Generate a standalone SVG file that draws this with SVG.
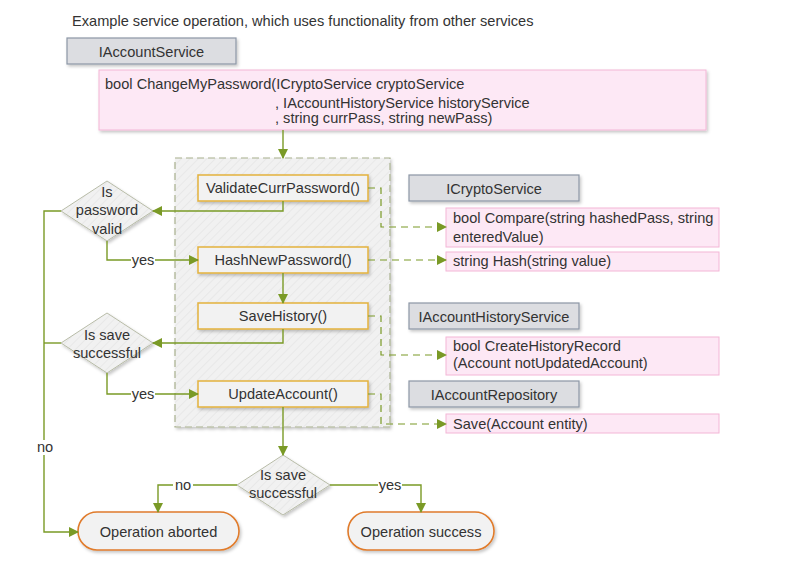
<svg xmlns="http://www.w3.org/2000/svg" width="790" height="570" viewBox="0 0 790 570">
<defs>
<style>
text{font-family:"Liberation Sans",Arial,sans-serif;font-size:14.6px;fill:#333;}
.c{text-anchor:middle;}
.gray{fill:#dcdde1;stroke:#8c97a6;stroke-width:1.2;}
.pink{fill:#fde8f5;stroke:#f3b6d6;stroke-width:1;}
.step{fill:#f2f2f2;stroke:#e3b23c;stroke-width:1.5;}
.dia{fill:url(#hatch);stroke:#b8bca8;stroke-width:1;}
.pill{fill:#f2f2f2;stroke:#e07b2c;stroke-width:1.6;}
.ln{fill:none;stroke:#7a9a26;stroke-width:1.4;}
.ar{marker-end:url(#ah);}
.dl{fill:none;stroke:#7a9a26;stroke-width:1.2;stroke-dasharray:7,5;}
.lbl{fill:#fff;}
</style>
<pattern id="hatch" width="6" height="6" patternUnits="userSpaceOnUse" patternTransform="rotate(45)">
<rect width="6" height="6" fill="#f1f1f1"/>
<line x1="0" y1="0" x2="0" y2="6" stroke="#e6e6e6" stroke-width="1.5"/>
</pattern>
<marker id="ah" markerWidth="10" markerHeight="10" refX="9" refY="5" orient="auto" markerUnits="userSpaceOnUse">
<path d="M0,0 L10,5 L0,10 Z" fill="#7a9a26"/>
</marker>
<filter id="sh" x="-10%" y="-10%" width="130%" height="140%">
<feDropShadow dx="1.5" dy="2" stdDeviation="1.5" flood-color="#000" flood-opacity="0.22"/>
</filter>
</defs>
<rect width="790" height="570" fill="#fff"/>
<text x="72" y="26">Example service operation, which uses functionality from other services</text>

<g id="iaccountservice"><rect class="gray" x="67" y="38" width="169" height="26" filter="url(#sh)"/><text class="c" x="151.5" y="57">IAccountService</text></g>
<g id="changemypassword"><rect class="pink" x="99" y="70" width="607" height="60" filter="url(#sh)"/>
<text x="105" y="89">bool ChangeMyPassword(ICryptoService cryptoService</text>
<text x="275" y="108">, IAccountHistoryService historyService</text>
<text x="275" y="123">, string currPass, string newPass)</text></g>

<g id="container"><rect x="175" y="158" width="215" height="269" fill="url(#hatch)" stroke="#a7b08e" stroke-width="1.2" stroke-dasharray="7,4" filter="url(#sh)"/></g>

<g id="validate"><rect class="step" x="198" y="175" width="170" height="26" filter="url(#sh)"/><text class="c" x="283" y="193">ValidateCurrPassword()</text></g>
<g id="hash"><rect class="step" x="198" y="247" width="170" height="26" filter="url(#sh)"/><text class="c" x="283" y="265">HashNewPassword()</text></g>
<g id="savehistory"><rect class="step" x="198" y="303" width="170" height="26" filter="url(#sh)"/><text class="c" x="283" y="321">SaveHistory()</text></g>
<g id="updateaccount"><rect class="step" x="198" y="381" width="170" height="26" filter="url(#sh)"/><text class="c" x="283" y="399">UpdateAccount()</text></g>

<g id="dia1"><path class="dia" d="M107,181 L153,211 L107,241 L61,211 Z" filter="url(#sh)"/>
<text class="c" x="107" y="197">Is</text><text class="c" x="107" y="215">password</text><text class="c" x="107" y="234">valid</text></g>
<g id="dia2"><path class="dia" d="M107,313 L153,343 L107,373 L61,343 Z" filter="url(#sh)"/>
<text class="c" x="107" y="340">Is save</text><text class="c" x="107" y="358">successful</text></g>
<g id="dia3"><path class="dia" d="M283,455 L330,485 L283,515 L237,485 Z" filter="url(#sh)"/>
<text class="c" x="283" y="480">Is save</text><text class="c" x="283" y="498">successful</text></g>

<g id="aborted"><rect class="pill" x="78" y="512" width="161" height="38" rx="19" filter="url(#sh)"/><text class="c" x="158.5" y="537">Operation aborted</text></g>
<g id="success"><rect class="pill" x="348" y="512" width="146" height="38" rx="19" filter="url(#sh)"/><text class="c" x="421" y="537">Operation success</text></g>

<g id="icryptoservice"><rect class="gray" x="409" y="175" width="170" height="26" filter="url(#sh)"/><text class="c" x="494" y="194">ICryptoService</text></g>
<g id="compare"><rect class="pink" x="446" y="208" width="273" height="39"/><text x="453" y="223">bool Compare(string hashedPass, string</text><text x="453" y="242">enteredValue)</text></g>
<g id="hashm"><rect class="pink" x="446" y="252" width="273" height="19"/><text x="453" y="266">string Hash(string value)</text></g>
<g id="iaccounthistoryservice"><rect class="gray" x="409" y="303" width="170" height="26" filter="url(#sh)"/><text class="c" x="494" y="322">IAccountHistoryService</text></g>
<g id="createhistory"><rect class="pink" x="446" y="337" width="273" height="38"/><text x="453" y="351">bool CreateHistoryRecord</text><text x="453" y="368">(Account notUpdatedAccount)</text></g>
<g id="iaccountrepository"><rect class="gray" x="409" y="381" width="170" height="26" filter="url(#sh)"/><text class="c" x="494" y="400">IAccountRepository</text></g>
<g id="save"><rect class="pink" x="446" y="414" width="273" height="19"/><text x="453" y="429">Save(Account entity)</text></g>

<g id="connectors">
<path class="ln ar" d="M283,130 L283,158"/>
<path class="ln ar" d="M283,201 L283,211 L153,211"/>
<path class="ln ar" d="M107,241 L107,260 L198,260"/>
<path class="ln ar" d="M283,273 L283,303"/>
<path class="ln ar" d="M283,329 L283,343 L153,343"/>
<path class="ln ar" d="M107,373 L107,394 L198,394"/>
<path class="ln ar" d="M283,407 L283,455"/>
<path class="ln ar" d="M61,211 L44,211 L44,532 L78,532"/>
<path class="ln" d="M61,343 L44,343"/>
<path class="ln ar" d="M237,485 L158,485 L158,512"/>
<path class="ln ar" d="M330,485 L421,485 L421,512"/>
<path class="dl ar" d="M368,188 L381,188 L381,227 L446,227"/>
<path class="dl ar" d="M368,260 L446,260"/>
<path class="dl ar" d="M368,316 L381,316 L381,355 L446,355"/>
<path class="dl ar" d="M368,394 L381,394 L381,424 L446,424"/>
<rect class="lbl" x="131" y="253" width="24" height="15"/><text class="c" x="143" y="265">yes</text>
<rect class="lbl" x="131" y="387" width="24" height="15"/><text class="c" x="143" y="399">yes</text>
<rect class="lbl" x="34" y="440" width="20" height="15"/><text class="c" x="45" y="452">no</text>
<rect class="lbl" x="173" y="478" width="20" height="15"/><text class="c" x="183" y="490">no</text>
<rect class="lbl" x="378" y="478" width="24" height="15"/><text class="c" x="390" y="490">yes</text>
</g>
</svg>
